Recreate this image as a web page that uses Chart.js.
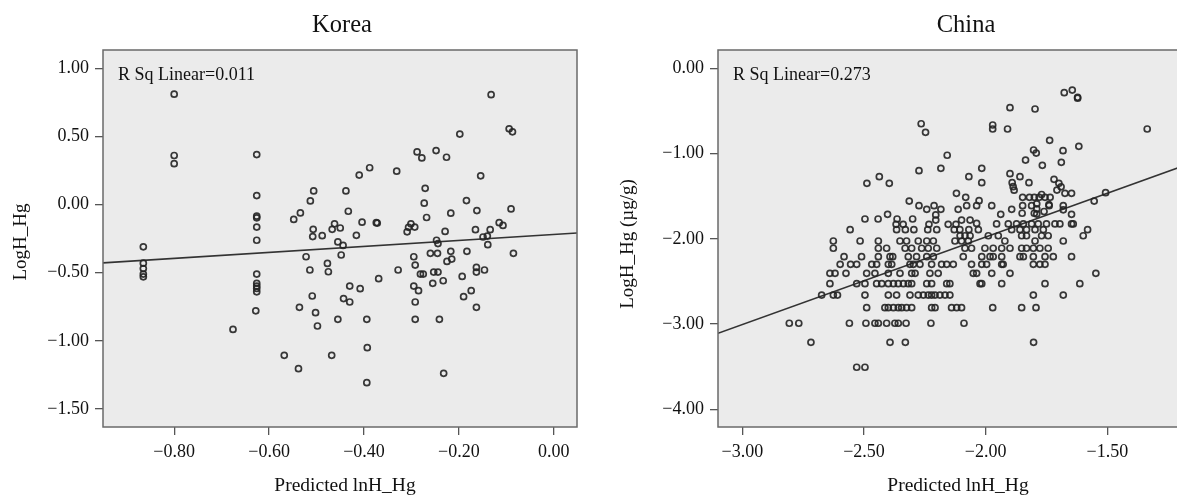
<!DOCTYPE html>
<html>
<head>
<meta charset="utf-8">
<script src="https://cdn.jsdelivr.net/npm/chart.js@4.4.0/dist/chart.umd.min.js"></script>
<style>
  html, body { margin: 0; padding: 0; background: #fff; width: 1177px; height: 496px; overflow: hidden; position: relative; }
  #korea { position: absolute; left: 0; top: 0; }
  #china { position: absolute; left: 590px; top: 0; }
</style>
</head>
<body>
<canvas id="korea" width="590" height="496"></canvas>
<canvas id="china" width="624" height="496"></canvas>
<script>
// Korea: [Predicted lnH_Hg, LogH_Hg]
var koreaPoints = [
  [-0.800, 0.810], [-0.800, 0.360], [-0.800, 0.300],
  [-0.865, -0.310], [-0.865, -0.430], [-0.865, -0.470], [-0.865, -0.510], [-0.865, -0.530],
  [-0.626, 0.367], [-0.626, 0.066], [-0.626, -0.085], [-0.626, -0.097], [-0.626, -0.165], [-0.626, -0.262],
  [-0.626, -0.510], [-0.626, -0.578], [-0.626, -0.598], [-0.626, -0.615], [-0.626, -0.640], [-0.628, -0.780],
  [-0.676, -0.916],
  [-0.548, -0.109], [-0.534, -0.061], [-0.513, 0.027], [-0.506, 0.100], [-0.507, -0.182], [-0.508, -0.235],
  [-0.488, -0.228], [-0.467, -0.182], [-0.462, -0.141], [-0.450, -0.172], [-0.455, -0.274], [-0.444, -0.300],
  [-0.438, 0.100], [-0.433, -0.049], [-0.416, -0.226], [-0.410, 0.216], [-0.388, 0.270], [-0.404, -0.129],
  [-0.374, -0.133], [-0.372, -0.136], [-0.331, 0.245], [-0.309, -0.200], [-0.306, -0.167], [-0.301, -0.141],
  [-0.293, -0.165], [-0.288, 0.386], [-0.278, 0.342], [-0.271, 0.119], [-0.273, 0.010], [-0.268, -0.095],
  [-0.248, 0.396], [-0.226, 0.347], [-0.247, -0.262], [-0.244, -0.286], [-0.229, -0.197], [-0.217, -0.063],
  [-0.198, 0.517], [-0.184, 0.029], [-0.165, -0.184], [-0.162, -0.044], [-0.154, 0.211], [-0.149, -0.238],
  [-0.140, -0.231], [-0.134, -0.184], [-0.132, 0.806], [-0.139, -0.294], [-0.115, -0.133], [-0.107, -0.153],
  [-0.094, 0.556], [-0.087, 0.534], [-0.090, -0.032],
  [-0.522, -0.383], [-0.514, -0.480], [-0.509, -0.671], [-0.502, -0.793], [-0.498, -0.891], [-0.536, -0.754],
  [-0.477, -0.432], [-0.475, -0.493], [-0.455, -0.842], [-0.448, -0.370], [-0.443, -0.690], [-0.430, -0.715],
  [-0.430, -0.598], [-0.408, -0.617], [-0.394, -0.842], [-0.393, -1.050], [-0.394, -1.307], [-0.468, -1.106],
  [-0.568, -1.106], [-0.538, -1.204], [-0.369, -0.544], [-0.328, -0.480], [-0.295, -0.383], [-0.292, -0.444],
  [-0.295, -0.598], [-0.285, -0.632], [-0.292, -0.715], [-0.292, -0.842], [-0.281, -0.510], [-0.275, -0.510],
  [-0.260, -0.358], [-0.253, -0.495], [-0.245, -0.358], [-0.244, -0.495], [-0.255, -0.578], [-0.233, -0.559],
  [-0.241, -0.842], [-0.232, -1.238], [-0.225, -0.417], [-0.217, -0.343], [-0.215, -0.400], [-0.193, -0.527],
  [-0.190, -0.676], [-0.183, -0.343], [-0.174, -0.632], [-0.163, -0.461], [-0.163, -0.495], [-0.146, -0.480],
  [-0.163, -0.754], [-0.085, -0.358]
];

// China: [Predicted lnH_Hg, LogH_Hg (ug/g)]
var chinaPoints = [
  [-2.265, -0.650], [-2.247, -0.751], [-2.158, -1.020], [-2.184, -1.173], [-2.274, -1.201], [-2.488, -1.349],
  [-2.437, -1.271], [-2.396, -1.349], [-2.120, -1.466], [-2.314, -1.557], [-2.274, -1.611], [-2.242, -1.654],
  [-2.212, -1.611], [-2.184, -1.654], [-2.113, -1.654], [-2.496, -1.768], [-2.442, -1.768], [-2.403, -1.713],
  [-2.364, -1.768], [-2.300, -1.768], [-2.368, -1.830], [-2.339, -1.830], [-2.205, -1.720], [-2.205, -1.780],
  [-2.233, -1.830], [-2.154, -1.830], [-2.122, -1.830],
  [-1.677, -0.286], [-1.644, -0.255], [-1.622, -0.340], [-1.622, -0.350], [-1.900, -0.462], [-1.797, -0.477],
  [-1.971, -0.665], [-1.971, -0.712], [-1.910, -0.712], [-1.336, -0.712], [-1.737, -0.845], [-1.617, -0.915],
  [-1.682, -0.966], [-1.803, -0.958], [-1.792, -0.994], [-1.836, -1.076], [-1.767, -1.138], [-1.689, -1.103],
  [-2.016, -1.173], [-2.069, -1.271], [-2.016, -1.341], [-1.900, -1.236], [-1.859, -1.271], [-1.822, -1.341],
  [-1.891, -1.341], [-1.887, -1.388], [-1.883, -1.430], [-1.719, -1.302], [-1.699, -1.349], [-1.690, -1.390],
  [-1.707, -1.428], [-1.674, -1.466], [-1.647, -1.466], [-1.507, -1.459], [-1.554, -1.557], [-2.082, -1.513],
  [-2.027, -1.553], [-2.078, -1.611], [-2.037, -1.611], [-1.975, -1.611], [-1.938, -1.713], [-1.893, -1.654],
  [-1.848, -1.513], [-1.820, -1.513], [-1.800, -1.513], [-1.780, -1.513], [-1.756, -1.513], [-1.735, -1.513],
  [-1.848, -1.611], [-1.811, -1.611], [-1.790, -1.590], [-1.770, -1.480], [-1.739, -1.611], [-1.681, -1.611],
  [-1.681, -1.660], [-1.647, -1.713], [-1.790, -1.650], [-1.790, -1.710], [-2.099, -1.780], [-2.064, -1.780],
  [-2.037, -1.820], [-1.955, -1.826], [-1.907, -1.826], [-1.873, -1.826], [-1.845, -1.826], [-1.811, -1.826],
  [-1.784, -1.826], [-1.750, -1.826], [-1.715, -1.826], [-1.695, -1.826], [-1.647, -1.826], [-1.640, -1.826],
  [-1.850, -1.700], [-1.800, -1.700], [-1.760, -1.680], [-1.740, -1.600],
  // -1.89 row
  [-2.557, -1.893], [-2.366, -1.893], [-2.330, -1.893], [-2.295, -1.893], [-2.238, -1.893], [-2.201, -1.893],
  [-2.129, -1.893], [-2.106, -1.893], [-2.069, -1.893], [-2.030, -1.893], [-1.893, -1.893], [-1.859, -1.893],
  [-1.832, -1.893], [-1.797, -1.893], [-1.763, -1.893], [-1.581, -1.893],
  // -1.96 row
  [-2.105, -1.964], [-2.085, -1.964], [-2.064, -1.964], [-1.989, -1.964], [-1.948, -1.964], [-1.852, -1.964],
  [-1.832, -1.964], [-1.770, -1.964], [-1.743, -1.964], [-1.599, -1.964],
  // -2.03 row
  [-2.626, -2.026], [-2.516, -2.026], [-2.441, -2.026], [-2.352, -2.026], [-2.325, -2.026], [-2.277, -2.026],
  [-2.242, -2.026], [-2.215, -2.026], [-2.126, -2.026], [-2.099, -2.026], [-2.071, -2.026], [-1.921, -2.026],
  [-1.797, -2.026], [-1.681, -2.026],
  // -2.11 row
  [-2.626, -2.111], [-2.441, -2.111], [-2.407, -2.111], [-2.331, -2.111], [-2.304, -2.111], [-2.263, -2.111],
  [-2.236, -2.111], [-2.201, -2.111], [-2.085, -2.111], [-2.058, -2.111], [-2.003, -2.111], [-1.969, -2.111],
  [-1.934, -2.111], [-1.900, -2.111], [-1.852, -2.111], [-1.832, -2.111], [-1.804, -2.111], [-1.777, -2.111],
  [-1.743, -2.111],
  // -2.21 row
  [-2.582, -2.210], [-2.510, -2.210], [-2.441, -2.210], [-2.393, -2.210], [-2.382, -2.210], [-2.318, -2.210],
  [-2.284, -2.210], [-2.242, -2.210], [-2.215, -2.210], [-2.092, -2.210], [-2.016, -2.210], [-1.982, -2.210],
  [-1.969, -2.210], [-1.934, -2.210], [-1.859, -2.210], [-1.845, -2.210], [-1.804, -2.210], [-1.756, -2.210],
  [-1.722, -2.210], [-1.647, -2.210],
  // -2.30 row
  [-2.598, -2.300], [-2.555, -2.300], [-2.530, -2.300], [-2.468, -2.300], [-2.448, -2.300], [-2.400, -2.300],
  [-2.386, -2.300], [-2.311, -2.300], [-2.297, -2.300], [-2.270, -2.300], [-2.222, -2.300], [-2.181, -2.300],
  [-2.160, -2.300], [-2.133, -2.300], [-2.058, -2.300], [-2.016, -2.300], [-1.996, -2.300], [-1.934, -2.300],
  [-1.928, -2.300], [-1.804, -2.300], [-1.777, -2.300], [-1.756, -2.300],
  // -2.40 row
  [-2.640, -2.405], [-2.619, -2.405], [-2.574, -2.405], [-2.489, -2.405], [-2.455, -2.405], [-2.400, -2.405],
  [-2.352, -2.405], [-2.304, -2.405], [-2.290, -2.405], [-2.229, -2.405], [-2.195, -2.405], [-2.051, -2.405],
  [-2.037, -2.405], [-1.975, -2.405], [-1.900, -2.405], [-1.547, -2.405],
  // -2.53 row
  [-2.640, -2.527], [-2.530, -2.527], [-2.496, -2.527], [-2.448, -2.527], [-2.427, -2.527], [-2.400, -2.527],
  [-2.379, -2.527], [-2.359, -2.527], [-2.338, -2.527], [-2.318, -2.527], [-2.304, -2.527], [-2.242, -2.527],
  [-2.222, -2.527], [-2.160, -2.527], [-2.147, -2.527], [-2.023, -2.527], [-2.016, -2.527], [-1.934, -2.527],
  [-1.756, -2.527], [-1.613, -2.527],
  // -2.66 row
  [-2.674, -2.660], [-2.626, -2.660], [-2.609, -2.660], [-2.496, -2.660], [-2.400, -2.660], [-2.366, -2.660],
  [-2.311, -2.660], [-2.277, -2.660], [-2.256, -2.660], [-2.236, -2.660], [-2.222, -2.660], [-2.208, -2.660],
  [-2.188, -2.660], [-2.167, -2.660], [-2.147, -2.660], [-1.804, -2.660], [-1.681, -2.660],
  // -2.81 row
  [-2.489, -2.808], [-2.414, -2.808], [-2.400, -2.808], [-2.379, -2.808], [-2.359, -2.808], [-2.345, -2.808],
  [-2.325, -2.808], [-2.304, -2.808], [-2.222, -2.808], [-2.208, -2.808], [-2.140, -2.808], [-2.119, -2.808],
  [-2.099, -2.808], [-1.971, -2.808], [-1.852, -2.808], [-1.793, -2.808],
  // -3.0 row
  [-2.807, -2.991], [-2.768, -2.991], [-2.560, -2.991], [-2.492, -2.991], [-2.455, -2.991], [-2.441, -2.991],
  [-2.407, -2.991], [-2.373, -2.991], [-2.359, -2.991], [-2.327, -2.991], [-2.225, -2.991], [-2.089, -2.991],
  // lowest rows
  [-2.718, -3.214], [-2.393, -3.214], [-2.330, -3.214], [-1.803, -3.214],
  [-2.530, -3.507], [-2.496, -3.507]
];

// fit lines (end points)
var koreaFit = [[-0.950, -0.428], [0.049, -0.209]];
var chinaFit = [[-3.100, -3.108], [-1.060, -1.015]];

var koreaXTicks = [-0.8, -0.6, -0.4, -0.2, 0];
var koreaYTicks = [1, 0.5, 0, -0.5, -1, -1.5];
var chinaXTicks = [-3, -2.5, -2, -1.5];
var chinaYTicks = [0, -1, -2, -3, -4];

var serif = "'Liberation Serif', 'Times New Roman', serif";

function fmt(v) {
  if (Math.abs(v) < 1e-9) return '0.00';
  return (v < 0 ? '\u2212' : '') + Math.abs(v).toFixed(2);
}

var framePlugin = {
  id: 'frame',
  beforeDraw: function (chart) {
    var a = chart.chartArea, ctx = chart.ctx;
    ctx.save();
    ctx.fillStyle = '#ebebeb';
    ctx.fillRect(a.left, a.top, a.right - a.left, a.bottom - a.top);
    ctx.restore();
  },
  afterDraw: function (chart) {
    var a = chart.chartArea, ctx = chart.ctx;
    var o = chart.options.plugins.frame;
    ctx.save();
    ctx.strokeStyle = '#6a6a6a';
    ctx.lineWidth = 1.5;
    ctx.strokeRect(a.left, a.top, a.right - a.left, a.bottom - a.top);

    ctx.fillStyle = '#111';
    ctx.textAlign = 'center';
    ctx.textBaseline = 'alphabetic';
    ctx.font = '24.5px ' + serif;
    ctx.fillText(o.title, o.titleX, 32);

    ctx.textAlign = 'left';
    ctx.font = '18px ' + serif;
    ctx.fillText(o.rsq, a.left + 15, 80);

    ctx.textAlign = 'center';
    ctx.font = '19.5px ' + serif;
    ctx.fillText(o.xTitle, o.xTitleX, 491);

    ctx.translate(o.yTitleX, o.yTitleY);
    ctx.rotate(-Math.PI / 2);
    ctx.textBaseline = 'middle';
    ctx.font = '19px ' + serif;
    ctx.fillText(o.yTitle, 0, 0);
    ctx.restore();
  }
};

function makeChart(id, cfg) {
  var scatter = cfg.points.map(function (p) { return { x: p[0], y: p[1] }; });
  var fit = cfg.fit.map(function (p) { return { x: p[0], y: p[1] }; });
  var tickFont = { family: serif, size: 18 };
  return new Chart(document.getElementById(id), {
    type: 'scatter',
    data: {
      datasets: [{
        data: scatter,
        pointStyle: 'circle',
        pointRadius: 3,
        pointBorderWidth: 1.7,
        borderColor: 'rgba(35, 35, 35, 0.9)',
        backgroundColor: 'rgba(0, 0, 0, 0)'
      }, {
        type: 'line',
        data: fit,
        showLine: true,
        borderColor: '#333',
        borderWidth: 1.6,
        pointRadius: 0,
        fill: false
      }]
    },
    plugins: [framePlugin],
    options: {
      responsive: false,
      animation: false,
      events: [],
      layout: { autoPadding: false, padding: { top: 50, right: cfg.padRight, left: 0, bottom: 0 } },
      plugins: {
        legend: { display: false },
        tooltip: { enabled: false },
        frame: cfg.text
      },
      scales: {
        x: {
          type: 'linear',
          min: cfg.xMin,
          max: cfg.xMax,
          afterBuildTicks: function (s) { s.ticks = cfg.xTicks.map(function (v) { return { value: v }; }); },
          afterFit: function (s) { s.height = 69; },
          border: { display: false },
          grid: { drawOnChartArea: false, drawTicks: true, tickLength: 8, color: '#555', lineWidth: 1.3 },
          ticks: { autoSkip: false, maxRotation: 0, padding: 6, color: '#111', font: tickFont, callback: fmt }
        },
        y: {
          type: 'linear',
          min: cfg.yMin,
          max: cfg.yMax,
          afterBuildTicks: function (s) { s.ticks = cfg.yTicks.map(function (v) { return { value: v }; }); },
          afterFit: function (s) { s.width = cfg.left; },
          border: { display: false },
          grid: { drawOnChartArea: false, drawTicks: true, tickLength: 8, color: '#555', lineWidth: 1.3 },
          ticks: { autoSkip: false, padding: 6, color: '#111', font: tickFont, callback: fmt }
        }
      }
    }
  });
}

var koreaChart = makeChart('korea', {
  points: koreaPoints, fit: koreaFit,
  xTicks: koreaXTicks, yTicks: koreaYTicks,
  xMin: -0.950, xMax: 0.049, yMin: -1.632, yMax: 1.134,
  left: 103, padRight: 13,
  text: { title: 'Korea', titleX: 342, rsq: 'R Sq Linear=0.011', xTitle: 'Predicted lnH_Hg', xTitleX: 345,
          yTitle: 'LogH_Hg', yTitleX: 21, yTitleY: 242 }
});

var chinaChart = makeChart('china', {
  points: chinaPoints, fit: chinaFit,
  xTicks: chinaXTicks, yTicks: chinaYTicks,
  xMin: -3.100, xMax: -1.0615, yMin: -4.208, yMax: 0.215,
  left: 128, padRight: 0,
  text: { title: 'China', titleX: 376, rsq: 'R Sq Linear=0.273', xTitle: 'Predicted lnH_Hg', xTitleX: 368,
          yTitle: 'LogH_Hg (\u00b5g/g)', yTitleX: 38, yTitleY: 244 }
});
</script>
</body>
</html>
